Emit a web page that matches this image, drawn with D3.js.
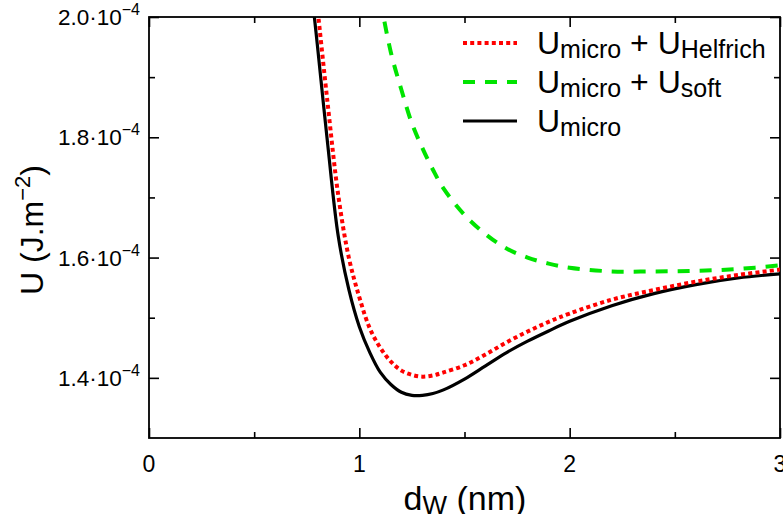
<!DOCTYPE html>
<html>
<head>
<meta charset="utf-8">
<script src="https://cdn.jsdelivr.net/npm/d3@7"></script>
<style>
  body { margin: 0; background: #fff; }
  text { font-family: "Liberation Sans", Arial, Helvetica, sans-serif; fill: #000; }
</style>
</head>
<body>
<svg id="chart" width="783" height="514"></svg>
<script>
// ---- data (U in units of 1e-4 J.m^-2) ----
const dW = [0.78, 0.8, 0.85, 0.9, 0.95, 1.0, 1.05, 1.1, 1.15, 1.2, 1.25, 1.3, 1.35, 1.4,
            1.5, 1.6, 1.7, 1.8, 1.9, 2.0, 2.2, 2.4, 2.6, 2.8, 3.0];
const uMicro = [2.02, 1.955, 1.787, 1.635, 1.547, 1.485, 1.442, 1.409, 1.389, 1.376, 1.371, 1.371, 1.374, 1.380,
                1.398, 1.420, 1.442, 1.461, 1.478, 1.494, 1.520, 1.540, 1.555, 1.566, 1.573];
const uMicroHelfrich = [2.08, 2.017, 1.854, 1.703, 1.600, 1.534, 1.482, 1.450, 1.427, 1.412, 1.405, 1.402, 1.404, 1.409,
                        1.421, 1.439, 1.459, 1.477, 1.493, 1.507, 1.530, 1.546, 1.560, 1.571, 1.580];
const uMicroSoft = [null, null, null, null, null, null, null, 2.028, 1.941, 1.879, 1.823, 1.782, 1.746, 1.715,
                    1.671, 1.639, 1.615, 1.600, 1.590, 1.583, 1.577, 1.577, 1.578, 1.581, 1.587];
const xTickValues = [0, 1, 2, 3];
const xMinorTicks = [0.5, 1.5, 2.5];
const yTickValues = [1.4, 1.6, 1.8, 2.0];
const yMinorTicks = [1.5, 1.7, 1.9];
const yTickLabels = ["1.4·10", "1.6·10", "1.8·10", "2.0·10"];
const seriesNames = ["micro + U", "micro + U", "micro"];
const seriesSubs = ["Helfrich", "soft", null];

const svg = d3.select("#chart");
const L = 149, R = 780, T = 17, B = 438;
const x = d3.scaleLinear().domain([0, 3]).range([L, R]);
const y = d3.scaleLinear().domain([1.3e-4, 2.0e-4]).range([B, T]);

// clip
svg.append("defs").append("clipPath").attr("id", "clip")
  .append("rect").attr("x", L).attr("y", T).attr("width", R - L).attr("height", B - T);

// axes with inward ticks
function styleAxis(g) {
  g.selectAll(".domain").remove();
  g.selectAll("line").attr("stroke", "#000").attr("stroke-width", 1.6);
  g.selectAll("text").remove();
}
const major = 10, minor = 6;
svg.append("g").attr("transform", `translate(0,${B})`)
  .call(d3.axisBottom(x).tickValues(xTickValues).tickSize(-major)).call(styleAxis);
svg.append("g").attr("transform", `translate(0,${B})`)
  .call(d3.axisBottom(x).tickValues(xMinorTicks).tickSize(-minor)).call(styleAxis);
svg.append("g").attr("transform", `translate(0,${T})`)
  .call(d3.axisTop(x).tickValues(xTickValues).tickSize(-major)).call(styleAxis);
svg.append("g").attr("transform", `translate(0,${T})`)
  .call(d3.axisTop(x).tickValues(xMinorTicks).tickSize(-minor)).call(styleAxis);
svg.append("g").attr("transform", `translate(${L},0)`)
  .call(d3.axisLeft(y).tickValues(yTickValues.map(v => v * 1e-4)).tickSize(-major)).call(styleAxis);
svg.append("g").attr("transform", `translate(${L},0)`)
  .call(d3.axisLeft(y).tickValues(yMinorTicks.map(v => v * 1e-4)).tickSize(-minor)).call(styleAxis);
svg.append("g").attr("transform", `translate(${R},0)`)
  .call(d3.axisRight(y).tickValues(yTickValues.map(v => v * 1e-4)).tickSize(-major)).call(styleAxis);
svg.append("g").attr("transform", `translate(${R},0)`)
  .call(d3.axisRight(y).tickValues(yMinorTicks.map(v => v * 1e-4)).tickSize(-minor)).call(styleAxis);

// frame
svg.append("rect").attr("x", L).attr("y", T).attr("width", R - L).attr("height", B - T)
  .attr("fill", "none").attr("stroke", "#000").attr("stroke-width", 1.8);

// tick labels
xTickValues.forEach(v => {
  svg.append("text").attr("x", x(v)).attr("y", B + 34).attr("text-anchor", "middle")
    .attr("font-size", 23).text(v);
});
yTickValues.forEach((v, i) => {
  const t = svg.append("text").attr("x", 140).attr("y", y(v * 1e-4) + 8)
    .attr("text-anchor", "end").attr("font-size", 22.5).text(yTickLabels[i]);
  t.append("tspan").attr("font-size", 16).attr("dy", -10).text("−4");
});

// axis titles
const xt = svg.append("text").attr("x", 465).attr("y", 510).attr("text-anchor", "middle").attr("font-size", 34).text("d");
xt.append("tspan").attr("font-size", 26).attr("dy", 4).text("W");
xt.append("tspan").attr("dy", -4).text(" (nm)");

const yt = svg.append("text").attr("transform", "translate(43,230) rotate(-90)")
  .attr("text-anchor", "middle").attr("font-size", 32).text("U (J.m");
yt.append("tspan").attr("font-size", 22).attr("dy", -13).text("−2");
yt.append("tspan").attr("dy", 13).text(")");

// curves
const series = [
  { vals: uMicro, color: "#000", width: 3.2, dash: null },
  { vals: uMicroHelfrich, color: "#ff0000", width: 4, dash: "4,3.2" },
  { vals: uMicroSoft, color: "#00e400", width: 4, dash: "12,10" }
];
const line = d3.line()
  .defined(d => d[1] != null)
  .x(d => x(d[0])).y(d => y(d[1] * 1e-4))
  .curve(d3.curveCatmullRom.alpha(0.5));
const plot = svg.append("g").attr("clip-path", "url(#clip)");
series.forEach(s => {
  plot.append("path").datum(dW.map((d, i) => [d, s.vals[i]]))
    .attr("d", line).attr("fill", "none").attr("stroke", s.color)
    .attr("stroke-width", s.width).attr("stroke-dasharray", s.dash);
});

// legend
const legendY = [43, 82, 121];
const legendOrder = [1, 2, 0];
legendOrder.forEach((si, row) => {
  const s = series[si];
  svg.append("line").attr("x1", 463).attr("x2", 517).attr("y1", legendY[row]).attr("y2", legendY[row])
    .attr("stroke", s.color).attr("stroke-width", s.width).attr("stroke-dasharray", s.dash);
  const t = svg.append("text").attr("x", 537).attr("y", legendY[row] + 11).attr("font-size", 32).text("U");
  const sub = seriesSubs[row];
  if (sub) {
    t.append("tspan").attr("font-size", 25).attr("dy", 4).text("micro");
    t.append("tspan").attr("dy", -4).text(" + U");
    t.append("tspan").attr("font-size", 25).attr("dy", 4).text(sub);
  } else {
    t.append("tspan").attr("font-size", 25).attr("dy", 4).text(seriesNames[row]);
  }
});
</script>
</body>
</html>
